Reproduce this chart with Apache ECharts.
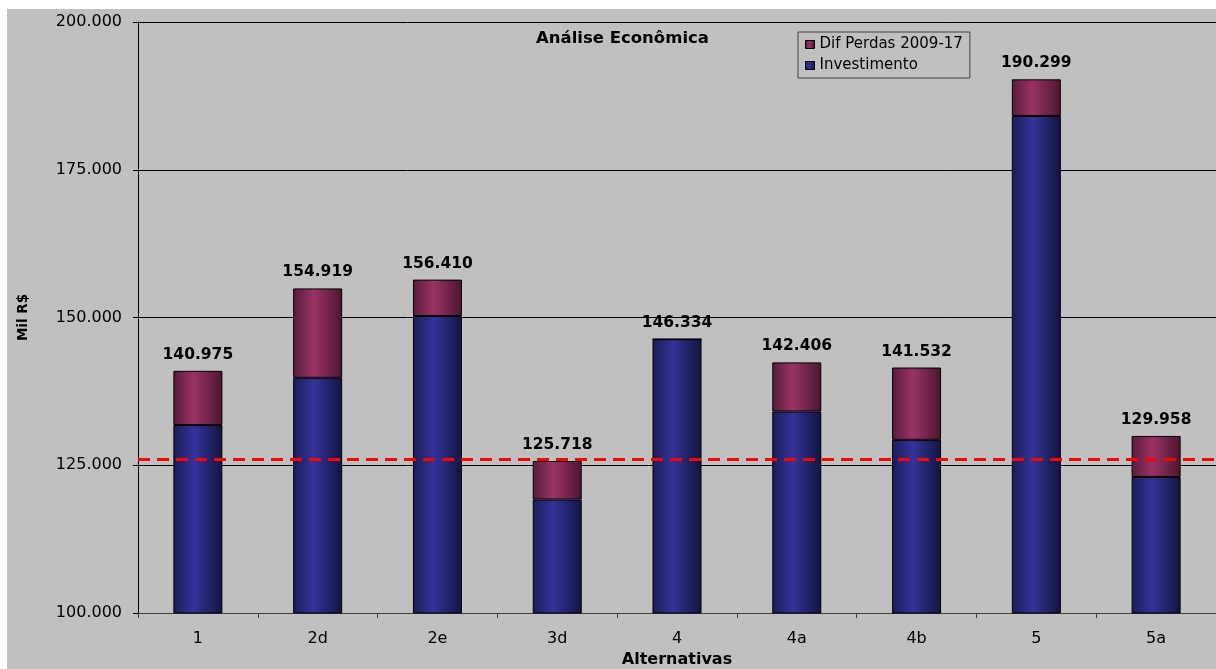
<!DOCTYPE html>
<html>
<head>
<meta charset="utf-8">
<script src="https://cdn.jsdelivr.net/npm/echarts@6/dist/echarts.min.js"></script>
<style>
html, body { margin: 0; padding: 0; background: #fff; }
#container { width: 1216px; height: 669px; }
</style>
</head>
<body>
<div id="container"></div>
<script>
// dados (R$ mil)
var alternativas = ['1', '2d', '2e', '3d', '4', '4a', '4b', '5', '5a'];
var investimento = [131800, 139800, 150250, 119200, 146334, 134100, 129300, 184100, 123000];
var totais = [140975, 154919, 156410, 125718, 146334, 142406, 141532, 190299, 129958];
var linhaRef = 126000;
var yTicks = [100000, 125000, 150000, 175000, 200000];

// diferenca de perdas = total - investimento
var difPerdas = [];
for (var i = 0; i < totais.length; i++) {
    difPerdas.push(totais[i] - investimento[i]);
}

function fmt(v) {
    return String(Math.round(v)).replace(/\B(?=(\d{3})+(?!\d))/g, '.');
}

function grad(c1, c2, c3) {
    return new echarts.graphic.LinearGradient(0, 0, 1, 0, [
        { offset: 0, color: c1 },
        { offset: 0.42, color: c2 },
        { offset: 1, color: c3 }
    ]);
}

var myChart = echarts.init(document.getElementById('container'));

var option = {
    backgroundColor: '#ffffff',
    animation: false,
    graphic: [{
        type: 'rect',
        z: -10,
        shape: { x: 7, y: 9, width: 1209, height: 660 },
        style: { fill: '#C0C0C0' }
    }, {
        type: 'text',
        left: 536,
        top: 30,
        style: {
            text: 'Análise Econômica',
            font: 'bold 16.5px "DejaVu Sans"',
            fill: '#000'
        }
    }],
    legend: {
        orient: 'vertical',
        left: 798,
        top: 32,
        padding: [5, 7, 5, 7],
        itemGap: 6,
        itemWidth: 9,
        itemHeight: 8,
        backgroundColor: '#C0C0C0',
        borderColor: '#404040',
        borderWidth: 1,
        borderRadius: 0,
        icon: 'rect',
        data: ['Dif Perdas 2009-17', 'Investimento'],
        textStyle: { fontFamily: 'DejaVu Sans', fontSize: 15, color: '#000' },
        itemStyle: { borderColor: '#000', borderWidth: 1 }
    },
    grid: {
        left: 138,
        top: 22,
        right: 0,
        bottom: 56,
        containLabel: false,
        outerBoundsMode: 'none',
        show: true,
        backgroundColor: '#C0C0C0',
        borderWidth: 0
    },
    xAxis: {
        type: 'category',
        data: alternativas,
        name: 'Alternativas',
        nameLocation: 'middle',
        nameGap: 39,
        nameTextStyle: { fontFamily: 'DejaVu Sans', fontWeight: 'bold', fontSize: 16, color: '#000' },
        axisLine: { lineStyle: { color: '#404040', width: 1 } },
        axisTick: { show: true, length: 5, lineStyle: { color: '#404040' } },
        axisLabel: { margin: 18, fontFamily: 'DejaVu Sans', fontSize: 16, color: '#000' }
    },
    yAxis: {
        type: 'value',
        min: yTicks[0],
        max: yTicks[yTicks.length - 1],
        interval: 25000,
        name: 'Mil R$',
        nameLocation: 'middle',
        nameGap: 108,
        nameRotate: 90,
        nameTextStyle: { fontFamily: 'DejaVu Sans', fontWeight: 'bold', fontSize: 13.5, color: '#000' },
        axisLine: { show: true, lineStyle: { color: '#000', width: 1 } },
        axisTick: { show: true, length: 5, lineStyle: { color: '#000' } },
        axisLabel: {
            margin: 16,
            fontFamily: 'DejaVu Sans',
            fontSize: 16,
            color: '#000',
            formatter: function (v) { return fmt(v); }
        },
        splitLine: { show: true, lineStyle: { color: '#000', width: 1 } }
    },
    series: [{
        name: 'Investimento',
        type: 'bar',
        stack: 'total',
        barWidth: 49,
        data: investimento,
        itemStyle: {
            color: grad('#1c1c58', '#333399', '#141440'),
            borderColor: '#000',
            borderWidth: 1
        }
    }, {
        name: 'Dif Perdas 2009-17',
        type: 'bar',
        stack: 'total',
        barWidth: 49,
        data: difPerdas,
        itemStyle: {
            color: grad('#581a3c', '#993366', '#4a162e'),
            borderColor: '#000',
            borderWidth: 1
        },
        label: {
            show: true,
            position: 'top',
            distance: 8,
            fontFamily: 'DejaVu Sans',
            fontWeight: 'bold',
            fontSize: 15.5,
            color: '#000',
            formatter: function (p) { return fmt(totais[p.dataIndex]); }
        },
        markLine: {
            silent: true,
            symbol: 'none',
            label: { show: false },
            lineStyle: { color: '#FF0000', type: [12, 7], width: 3 },
            data: [{ yAxis: linhaRef }]
        }
    }]
};

myChart.setOption(option);
</script>
</body>
</html>
